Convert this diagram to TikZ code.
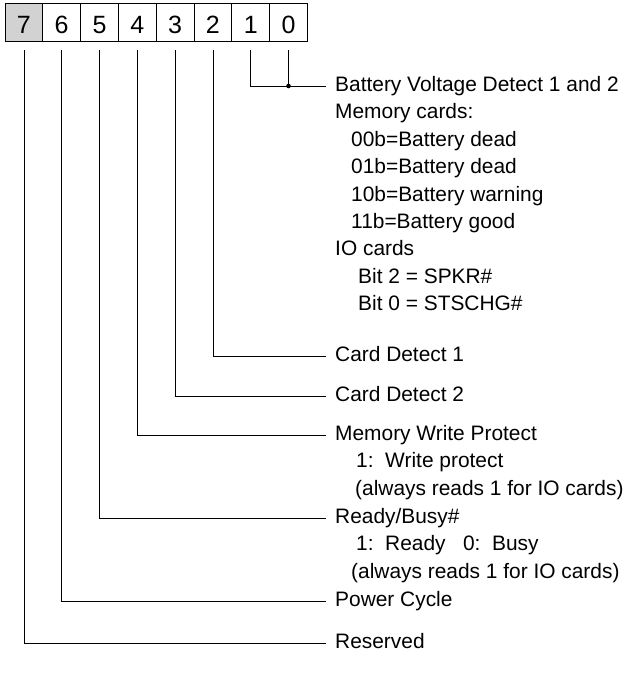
\documentclass[tikz,border=0pt]{standalone}
\usepackage{fontspec}
\setmainfont{Liberation Sans}
\usetikzlibrary{positioning,calc}

\begin{document}
\begin{tikzpicture}[
    x=1pt, y=-1pt,
    bitbox/.style={rectangle, draw, line width=0.9pt, minimum width=37.8pt, minimum height=38pt, inner sep=0pt, text height=21pt, font=\fontsize{25}{30}\selectfont},
    field/.style={anchor=west, inner xsep=9pt, inner ysep=0pt, text height=15pt, text depth=4pt, font=\fontsize{20.9}{27.4}\selectfont},
    note/.style={anchor=base west, inner sep=0pt, font=\fontsize{20.9}{27.4}\selectfont},
    wire/.style={line width=0.8pt, shorten <=8pt}
]
\useasboundingbox (0,0) rectangle (634,679);

% Register bits
\node[bitbox, fill=gray!35] (b7) at (23.9,22.8) {7};
\node[bitbox] (b6) at (61.7,22.8) {6};
\node[bitbox] (b5) at (99.5,22.8) {5};
\node[bitbox] (b4) at (137.3,22.8) {4};
\node[bitbox] (b3) at (175.1,22.8) {3};
\node[bitbox] (b2) at (212.9,22.8) {2};
\node[bitbox] (b1) at (250.7,22.8) {1};
\node[bitbox] (b0) at (288.5,22.8) {0};

% Bits 1 and 0
\node[field] (bat) at (326,86) {Battery Voltage Detect 1 and 2};
\node[note] (mem) at ([xshift=9pt, yshift=-27.4pt]bat.base west) {Memory cards:};
\node[note] (m00) at ([xshift=16pt, yshift=-27.4pt]mem.base west) {00b=Battery dead};
\node[note] (m01) at ([yshift=-27.4pt]m00.base west) {01b=Battery dead};
\node[note] (m10) at ([yshift=-27.4pt]m01.base west) {10b=Battery warning};
\node[note] (m11) at ([yshift=-27.4pt]m10.base west) {11b=Battery good};
\node[note] (io) at ([xshift=-16pt, yshift=-27.4pt]m11.base west) {IO cards};
\node[note] (spkr) at ([xshift=23pt, yshift=-27.4pt]io.base west) {Bit 2 = SPKR\#};
\node[note] (stschg) at ([yshift=-27.4pt]spkr.base west) {Bit 0 = STSCHG\#};

% Bits 2 to 7
\node[field] (cd1) at (326,356) {Card Detect 1};
\node[field] (cd2) at (326,396) {Card Detect 2};
\node[field] (mwp) at (326,435) {Memory Write Protect};
\node[note] (wp1) at ([xshift=30pt, yshift=-27.4pt]mwp.base west) {1:~~Write protect};
\node[note] (wp2) at ([xshift=-1pt, yshift=-27.4pt]wp1.base west) {(always reads 1 for IO cards)};
\node[field] (rb) at (326,518) {Ready/Busy\#};
\node[note] (rb1) at ([xshift=30pt, yshift=-27.4pt]rb.base west) {1:~~Ready~~~0:~~Busy};
\node[note] (rb2) at ([xshift=-5pt, yshift=-27.4pt]rb1.base west) {(always reads 1 for IO cards)};
\node[field] (pc) at (326,601) {Power Cycle};
\node[field] (res) at (326,643) {Reserved};

% Wires
\coordinate (jn) at (b0.south |- bat.west);
\draw[wire] (b1.south) |- (bat.west);
\draw[wire] (b0.south) -- (jn);
\fill (jn) circle (2.3pt);
\draw[wire] (b2.south) |- (cd1.west);
\draw[wire] (b3.south) |- (cd2.west);
\draw[wire] (b4.south) |- (mwp.west);
\draw[wire] (b5.south) |- (rb.west);
\draw[wire] (b6.south) |- (pc.west);
\draw[wire] (b7.south) |- (res.west);

\end{tikzpicture}
\end{document}
